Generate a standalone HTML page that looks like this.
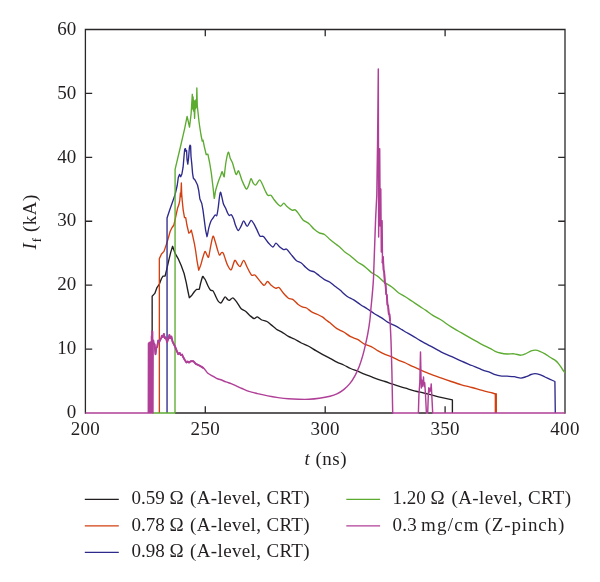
<!DOCTYPE html>
<html><head><meta charset="utf-8"><title>chart</title>
<style>
html,body{margin:0;padding:0;background:#fff;}
body{width:600px;height:582px;overflow:hidden;}
svg{display:block;will-change:transform;}
text{font-family:"Liberation Serif",serif;font-size:19px;fill:#231f20;}
</style></head><body>
<svg width="600" height="582" viewBox="0 0 600 582">
<rect width="600" height="582" fill="#fff"/>
<g fill="none" stroke="#2b2728" stroke-width="1.3">
<path d="M85.4,413.65 V29.5 H565.0 V413.65 M175,413.0 H393.2 M418.4,413.0 H426.4 M427.7,413.0 H432.7"/>
<path d="M205.30,413.0 v-6.8 M205.30,29.5 v6.8 M325.20,413.0 v-6.8 M325.20,29.5 v6.8 M445.10,413.0 v-6.8 M445.10,29.5 v6.8 M85.4,349.08 h6.8 M565.0,349.08 h-6.8 M85.4,285.17 h6.8 M565.0,285.17 h-6.8 M85.4,221.25 h6.8 M565.0,221.25 h-6.8 M85.4,157.33 h6.8 M565.0,157.33 h-6.8 M85.4,93.42 h6.8 M565.0,93.42 h-6.8"/>
</g>
<g fill="none" stroke-width="1.35" stroke-linejoin="round" stroke-linecap="butt">
<path d="M152.15,413 L152.15,296.2 L154.8,293.4 L156.8,287.9 L159.4,284.1 L161.5,278.5 L163,276.1 L165.1,276 L166.6,269.9 L168.7,260.6 L170.7,252.4 L172.6,246.3 L173.8,249.8 L175.4,253.9 L178,258.3 L181.1,265.3 L184.1,273.5 L186.2,282.3 L187.8,290.5 L189.3,297.7 L191.9,295.2 L194.5,291.5 L196.5,289.4 L199.1,289.4 C199.68,288.54 200.09,285.13 200.6,283.3 C201.11,281.47 202.19,277.21 202.7,276.5 C203.21,275.79 203.83,277.83 204.2,278.3 C204.57,278.77 204.78,278.74 205.3,279.8 C205.82,280.86 207.18,284.34 207.9,285.8 C208.62,287.26 209.68,289.38 210.4,290.1 C211.12,290.82 212.26,290.05 213,290.9 C213.74,291.75 214.86,294.64 215.6,296.1 C216.34,297.56 217.46,300.22 218.2,301.2 C218.94,302.18 220.15,303.11 220.8,303 C221.45,302.89 222.19,301.26 222.8,300.4 C223.41,299.54 224.42,297.03 225.1,296.9 C225.78,296.77 227.00,299.00 227.6,299.5 C228.19,300.00 228.56,300.64 229.3,300.4 C230.04,300.16 231.94,297.80 232.8,297.8 C233.66,297.80 234.68,299.55 235.4,300.4 C236.12,301.25 237.08,302.61 237.9,303.8 C238.72,304.99 240.12,307.75 241.2,308.8 C242.28,309.85 244.28,310.25 245.5,311.2 C246.72,312.15 248.58,314.45 249.8,315.5 C251.02,316.55 253.04,318.40 254.1,318.6 C255.16,318.80 256.21,316.70 257.3,316.9 C258.39,317.10 260.44,319.35 261.8,320 C263.16,320.65 265.57,320.81 266.9,321.5 C268.23,322.19 269.85,323.81 271.2,324.9 C272.55,325.99 274.94,328.22 276.4,329.2 C277.86,330.18 279.80,330.78 281.5,331.8 C283.20,332.82 286.57,335.38 288.4,336.4 C290.23,337.42 292.57,338.06 294.4,339 C296.23,339.94 299.35,342.01 301.3,343 C303.25,343.99 306.13,344.91 308.2,346 C310.27,347.09 313.83,349.48 315.9,350.7 C317.97,351.92 320.80,353.52 322.8,354.6 C324.80,355.68 328.00,357.24 330,358.3 C332.00,359.36 334.96,361.15 336.9,362.1 C338.84,363.05 341.76,364.09 343.7,365 C345.64,365.91 348.65,367.62 350.6,368.5 C352.56,369.38 355.55,370.41 357.5,371.2 C359.45,371.99 362.46,373.32 364.4,374.1 C366.34,374.88 369.26,375.96 371.2,376.7 C373.14,377.44 376.15,378.62 378.1,379.3 C380.06,379.98 383.05,380.85 385,381.5 C386.95,382.15 389.96,383.23 391.9,383.9 C393.84,384.57 396.76,385.59 398.7,386.2 C400.64,386.81 403.65,387.61 405.6,388.2 C407.56,388.79 410.42,389.83 412.5,390.4 C414.58,390.97 417.74,391.59 420.3,392.2 C422.86,392.81 427.68,393.98 430.6,394.7 C433.52,395.42 437.81,396.56 440.9,397.3 L452.4,399.9 L452.4,413" stroke="#231f20"/>
<path d="M159.35,413 L159.35,258.6 L161.5,254 L164,251.4 L166.3,244.6 L167.8,239.9 L170.2,231.2 L172.1,227.5 L173.9,225 L175.8,216.4 L177.7,207.7 L178.9,204.6 L179.8,200.3 L180.4,192.9 L180.8,196.6 L181.35,183 L181.7,194.1 L182.2,200.3 L183.2,210.2 L184.5,217.6 L185.7,217.6 L186.9,225 L188.8,233.1 L190,232.5 L191.3,230.2 L192.5,234.9 L194.4,243.6 L195.6,250.5 L197,260.6 L198.7,270.2 L200.6,265.5 C201.17,263.77 202.18,259.77 202.7,258 C203.22,256.23 203.93,253.91 204.3,253 C204.67,252.09 204.86,251.19 205.3,251.6 C205.74,252.01 206.92,255.16 207.4,255.9 C207.88,256.64 208.22,258.26 208.7,256.8 C209.18,255.34 210.19,248.52 210.8,245.6 C211.41,242.68 212.39,236.81 213,236.2 C213.61,235.59 214.49,239.49 215.1,241.3 C215.71,243.11 216.69,247.06 217.3,249 C217.91,250.94 218.79,254.50 219.4,255 C220.01,255.50 221.05,252.74 221.6,252.5 C222.15,252.26 222.76,252.34 223.3,253.3 C223.84,254.26 224.79,257.60 225.4,259.3 C226.01,261.00 226.92,263.86 227.6,265.3 C228.28,266.75 229.62,268.98 230.2,269.5 C230.78,270.02 231.05,270.29 231.7,269 C232.35,267.71 233.95,261.07 234.8,260.4 C235.65,259.73 236.92,263.45 237.7,264.3 C238.48,265.15 239.45,266.95 240.3,266.4 C241.15,265.85 242.72,260.27 243.7,260.4 C244.68,260.53 246.09,265.23 247.2,267.3 C248.30,269.37 250.41,273.91 251.5,275 C252.59,276.09 253.81,274.28 254.9,275 C255.99,275.72 257.91,278.64 259.2,280.1 C260.49,281.56 262.82,285.10 264,285.3 C265.18,285.50 266.48,281.50 267.5,281.5 C268.52,281.50 270.07,284.35 271.2,285.3 C272.33,286.25 274.39,287.89 275.5,288.2 C276.61,288.51 277.89,286.82 279,287.5 C280.11,288.18 281.97,291.48 283.3,293 C284.63,294.52 287.07,297.29 288.4,298.2 C289.73,299.11 291.35,298.55 292.7,299.4 C294.05,300.25 296.55,303.15 297.9,304.2 C299.25,305.25 300.98,306.26 302.2,306.8 C303.42,307.34 305.17,307.28 306.5,308 C307.83,308.72 310.03,310.98 311.6,311.9 C313.17,312.82 316.01,313.76 317.6,314.5 C319.19,315.24 321.58,316.32 322.8,317.1 C324.02,317.88 325.18,319.19 326.2,320 C327.22,320.81 328.48,321.58 330,322.8 C331.52,324.02 334.96,327.30 336.9,328.6 C338.84,329.90 341.76,330.85 343.7,332 C345.64,333.15 348.65,335.65 350.6,336.7 C352.56,337.75 355.55,338.35 357.5,339.4 C359.45,340.45 362.46,343.08 364.4,344.1 C366.34,345.12 369.26,345.64 371.2,346.6 C373.14,347.56 376.15,349.79 378.1,350.9 C380.06,352.00 383.05,353.55 385,354.4 C386.95,355.25 389.96,356.05 391.9,356.9 C393.84,357.75 396.76,359.54 398.7,360.4 C400.64,361.26 403.65,362.15 405.6,363 C407.56,363.85 410.42,365.44 412.5,366.4 C414.58,367.36 417.74,368.71 420.3,369.8 C422.86,370.89 427.68,372.95 430.6,374.1 C433.52,375.25 437.98,376.85 440.9,377.9 C443.82,378.95 448.28,380.52 451.2,381.5 C454.12,382.48 458.57,383.95 461.5,384.8 C464.43,385.65 468.97,386.71 471.9,387.5 C474.83,388.29 479.28,389.62 482.2,390.4 C485.12,391.18 490.60,392.50 492.5,393 C494.40,393.50 495.16,393.77 495.6,393.9 L495.9,413" stroke="#d23f10"/>
<path d="M495.8,393.3 V413" stroke="#d23f10" stroke-width="2.3"/>
<path d="M167.05,413 L167.05,218 L169.6,210.2 L172.7,201.5 L175.2,194.1 L177.2,185.5 L178.3,177.5 L179.5,174.4 L180.7,176.7 L181.9,174 L183.1,167.2 L183.9,157.8 L184.7,149.1 L185.5,148.7 L186,151.4 L186.6,150.6 L187,159.3 L187.8,164.1 L188.6,157.8 L189.4,147.5 L190,145.1 L190.6,145.9 L191,156.2 L191.8,164.1 L192.6,173.6 L193.4,178.3 L195.2,180.3 L197.5,185 L198.7,190.4 L199.9,199 L201.8,203.5 L203,210.2 L204.3,220.1 L205.6,230.1 L207,236.7 C207.44,236.46 208.16,230.55 208.7,228.4 C209.24,226.25 210.19,222.96 210.8,221.5 C211.41,220.04 212.39,219.02 213,218.1 C213.61,217.18 214.56,215.37 215.1,215 C215.64,214.63 216.36,216.52 216.8,215.5 C217.24,214.48 217.83,210.35 218.2,207.8 C218.57,205.25 219.09,199.70 219.4,197.5 C219.71,195.30 220.09,192.54 220.4,192.3 C220.71,192.06 221.19,194.21 221.6,195.8 C222.01,197.39 222.76,201.80 223.3,203.5 C223.84,205.20 224.79,206.45 225.4,207.8 C226.01,209.15 227.05,211.91 227.6,213 C228.15,214.09 228.76,215.26 229.3,215.5 C229.84,215.74 230.79,214.20 231.4,214.7 C232.01,215.20 233.03,217.54 233.6,219 C234.17,220.46 234.75,223.37 235.4,225 C236.05,226.63 237.38,230.37 238.2,230.5 C239.02,230.63 240.42,227.27 241.2,225.9 C241.98,224.53 242.85,220.73 243.7,220.8 C244.55,220.87 246.17,226.46 247.2,226.4 C248.23,226.34 250.02,220.71 251,220.4 C251.98,220.09 253.18,222.68 254.1,224.2 C255.02,225.72 256.65,229.40 257.5,231.1 C258.35,232.80 259.25,235.42 260.1,236.2 C260.95,236.98 262.28,235.61 263.5,236.6 C264.72,237.59 267.35,241.73 268.7,243.2 C270.05,244.67 271.97,247.00 273,247 C274.03,247.00 275.04,243.19 276,243.2 C276.96,243.21 278.72,246.19 279.8,247.1 C280.88,248.01 282.62,249.30 283.6,249.6 C284.58,249.90 285.65,248.52 286.7,249.2 C287.75,249.88 289.65,252.81 291,254.4 C292.35,255.99 294.74,259.18 296.2,260.4 C297.66,261.62 299.97,262.02 301.3,263 C302.63,263.98 304.38,266.21 305.6,267.3 C306.82,268.39 308.68,270.05 309.9,270.7 C311.12,271.35 312.87,271.18 314.2,271.9 C315.53,272.62 317.84,274.71 319.3,275.8 C320.76,276.89 322.98,278.69 324.5,279.6 C326.02,280.51 328.51,281.25 330,282.2 C331.49,283.15 333.58,285.18 335,286.3 C336.42,287.42 338.31,288.70 340,290.1 C341.69,291.50 344.96,294.81 346.9,296.2 C348.84,297.59 351.76,298.70 353.7,299.9 C355.64,301.10 358.65,303.41 360.6,304.7 C362.56,305.99 365.55,307.73 367.5,309 C369.45,310.27 372.46,312.48 374.4,313.7 C376.34,314.92 379.26,316.37 381.2,317.6 C383.14,318.83 386.15,321.25 388.1,322.4 C390.06,323.55 393.05,324.67 395,325.7 C396.95,326.73 400.40,328.81 401.9,329.7 C403.40,330.59 404.10,331.14 405.6,332 C407.10,332.86 410.42,334.58 412.5,335.8 C414.58,337.02 417.74,339.14 420.3,340.6 C422.86,342.06 427.68,344.51 430.6,346.1 C433.52,347.69 437.98,350.34 440.9,351.8 C443.82,353.26 448.28,355.07 451.2,356.4 C454.12,357.73 458.57,359.91 461.5,361.2 C464.43,362.49 468.97,364.28 471.9,365.5 C474.83,366.72 479.64,368.82 482.2,369.8 C484.76,370.78 488.16,371.72 490,372.4 C491.84,373.08 493.74,374.12 495.2,374.6 C496.66,375.08 498.60,375.57 500.3,375.8 C502.00,376.03 505.25,376.07 507.2,376.2 C509.15,376.33 512.16,376.43 514.1,376.7 C516.04,376.97 519.20,378.10 520.9,378.1 C522.60,378.10 524.64,377.21 526.1,376.7 C527.56,376.19 529.94,374.94 531.2,374.5 C532.46,374.06 533.78,373.59 535,373.6 C536.22,373.61 538.38,374.12 539.8,374.6 C541.22,375.08 543.54,376.33 545,377 C546.46,377.67 548.70,378.66 550.1,379.3 C551.50,379.94 554.22,381.19 554.9,381.5 L555.3,413" stroke="#2e2a8c"/>
<path d="M152.6,413 L175,413 L175.1,169.3 L180.4,147 L184.7,128.3 L187.1,116.4 L188.4,122 L189.5,127.1 L191.1,114 L192.3,94.3 L192.7,109 L193.1,97 L193.5,111 L193.9,100.5 L194.6,118.4 L195.2,101 L195.7,108.5 L196.1,99.5 L196.5,107 L196.85,88 L197.3,106 L197.8,110.5 L199,121.5 L199.6,126 L201,135 L202.2,141 L203,140.1 L204.4,147 L206.2,154.7 L207.9,154.2 L209.6,162.5 L211.3,172.8 L213,187.2 L214.2,198.4 C214.57,198.88 215.03,192.92 215.6,190.6 C216.17,188.28 217.46,184.18 218.2,182 C218.94,179.82 220.25,176.66 220.8,175.2 C221.35,173.74 221.69,171.56 222.1,171.7 C222.51,171.84 223.47,175.56 223.7,176.2 L224.2,176.9 C224.44,174.86 225.32,166.00 225.9,162.5 C226.48,159.00 227.69,152.81 228.3,152.2 C228.91,151.59 229.59,156.64 230.2,158.2 C230.81,159.76 231.78,160.90 232.6,163.2 C233.42,165.50 235.15,173.31 236,174.4 C236.85,175.49 237.75,170.05 238.6,170.9 C239.45,171.75 240.91,177.84 242,180.4 C243.09,182.96 245.32,188.39 246.3,189 C247.28,189.61 248.23,186.16 248.9,184.7 C249.57,183.24 250.39,178.94 251,178.7 C251.61,178.46 252.52,182.11 253.2,183 C253.88,183.89 254.89,185.44 255.8,185 C256.71,184.56 258.64,179.94 259.6,179.9 C260.56,179.86 261.81,183.17 262.6,184.7 C263.39,186.23 264.46,189.20 265.2,190.7 C265.94,192.20 266.99,194.65 267.8,195.3 C268.61,195.95 270.05,194.73 270.9,195.3 C271.75,195.87 272.89,198.12 273.8,199.3 C274.71,200.48 276.32,202.62 277.3,203.6 C278.28,204.58 279.78,206.27 280.7,206.2 C281.62,206.13 282.95,203.10 283.8,203.1 C284.65,203.10 285.55,205.21 286.7,206.2 C287.85,207.19 290.68,209.58 291.9,210.1 C293.12,210.62 294.34,209.36 295.3,209.9 C296.26,210.44 297.61,212.48 298.7,213.9 C299.79,215.32 301.54,218.51 303,219.9 C304.46,221.29 307.41,222.37 309,223.7 C310.59,225.03 312.74,228.01 314.2,229.3 C315.66,230.59 317.84,232.06 319.3,232.8 C320.76,233.54 322.98,233.55 324.5,234.5 C326.02,235.45 328.51,238.22 330,239.5 C331.49,240.78 333.58,242.41 335,243.5 C336.42,244.59 338.56,245.95 340,247.2 C341.44,248.45 343.74,251.08 345.2,252.3 C346.66,253.52 348.60,254.45 350.3,255.8 C352.00,257.15 355.25,260.34 357.2,261.8 C359.15,263.26 362.16,264.64 364.1,266.1 C366.04,267.56 368.96,270.64 370.9,272.1 C372.84,273.56 375.85,274.94 377.8,276.4 C379.75,277.86 382.76,280.94 384.7,282.4 C386.64,283.86 389.56,285.24 391.5,286.7 C393.44,288.16 396.44,291.28 398.4,292.7 C400.35,294.12 403.35,295.48 405.3,296.7 C407.25,297.92 410.26,300.00 412.2,301.3 C414.14,302.60 417.06,304.61 419,305.9 C420.94,307.19 423.94,309.05 425.9,310.4 C427.85,311.75 430.80,314.14 432.8,315.4 C434.80,316.66 437.39,317.67 440,319.3 C442.61,320.93 448.15,324.97 451.2,326.9 C454.25,328.83 458.57,331.20 461.5,332.9 C464.43,334.60 468.97,337.24 471.9,338.9 C474.83,340.56 479.64,343.25 482.2,344.6 C484.76,345.95 488.16,347.45 490,348.4 C491.84,349.35 493.74,350.65 495.2,351.3 C496.66,351.95 498.60,352.62 500.3,353 C502.00,353.38 505.25,353.89 507.2,354 C509.15,354.11 512.16,353.63 514.1,353.8 C516.04,353.97 519.20,355.24 520.9,355.2 C522.60,355.16 524.64,354.11 526.1,353.5 C527.56,352.89 529.87,351.37 531.2,350.9 C532.53,350.43 534.28,350.14 535.5,350.2 C536.72,350.26 538.45,350.79 539.8,351.3 C541.15,351.81 543.54,352.95 545,353.8 C546.46,354.65 548.64,356.37 550.1,357.3 C551.56,358.24 554.08,359.48 555.3,360.4 C556.52,361.32 557.72,362.58 558.7,363.8 C559.68,365.02 561.31,367.71 562.2,369 C563.09,370.29 564.60,372.35 565,372.9" stroke="#5cab31"/>
<path d="M85.4,413 L148.3,413 L148.45,343.5 L148.75,413 L149.05,342.5 L149.35,413 L149.65,343.5 L149.95,413 L150.25,342 L150.55,413 L150.85,343 L151.15,413 L151.45,336 L151.75,413 L152.05,331 L152.35,413 L152.65,331.5 L152.95,413 L153.2,340 L153.7,343.5 L154.6,344.3 L155.2,351 L155.5,354.2 L156.3,347.8 L157.2,346.9 L158.2,340.5 L159.3,341.8 L160.6,339.2 L161.3,337.8 L161.9,335.7 L162.8,337 L163.9,334 L164.4,336.8 L164.9,338.3 L165.6,337.4 L166.2,338.8 L167.1,342.2 L167.8,340 L168.4,338.8 L169.4,334.9 L170.2,338.3 L170.8,337 L171.4,336.6 L172.6,341.8 L173.9,344.3 L175.2,346.9 L176.9,351.2 L178.2,354.2 L179.7,352.9 L180.8,355.1 L182.1,354.6 L183,356.8 L184.7,359.8 L186.4,362.4 L187.7,361.5 L189,362.6 L190.7,361.2 C191.31,361.00 192.58,360.83 193.3,361.2 C194.02,361.57 194.95,363.19 195.8,363.8 C196.65,364.41 198.20,364.89 199.3,365.5 C200.41,366.11 202.38,367.00 203.6,368.1 C204.82,369.21 206.68,372.21 207.9,373.3 C209.12,374.39 210.98,375.08 212.2,375.8 C213.42,376.52 215.28,377.83 216.5,378.4 C217.72,378.97 219.47,379.30 220.8,379.8 C222.13,380.30 224.44,381.36 225.9,381.9 C227.36,382.44 229.78,383.10 231.1,383.6 C232.42,384.10 233.66,384.71 235.2,385.4 C236.74,386.09 240.06,387.65 242,388.5 C243.94,389.35 246.70,390.68 248.9,391.4 C251.10,392.12 254.82,392.96 257.5,393.6 C260.18,394.24 264.88,395.33 267.8,395.9 C270.72,396.47 275.18,397.19 278.1,397.6 C281.02,398.01 285.48,398.56 288.4,398.8 C291.32,399.04 295.78,399.23 298.7,399.3 C301.62,399.37 306.08,399.44 309,399.3 C311.92,399.16 316.32,398.73 319.3,398.3 C322.28,397.88 327.51,396.92 330,396.3 C332.49,395.68 334.96,394.85 336.9,393.9 C338.84,392.95 341.87,391.06 343.7,389.6 C345.53,388.14 348.21,385.56 349.8,383.6 C351.39,381.65 353.57,378.24 354.9,375.8 C356.23,373.36 358.11,369.19 359.2,366.4 C360.29,363.61 361.75,359.02 362.6,356.1 C363.45,353.18 364.46,348.97 365.2,345.8 C365.94,342.63 367.13,337.36 367.8,333.7 C368.47,330.04 369.46,323.50 369.9,320 C370.34,316.50 370.39,314.94 370.9,309 C371.41,303.06 372.83,290.84 373.5,278.1 L375.6,219.1 L376.8,195 L377.6,140 L378.3,69 L378.65,237 L379.7,148.7 L380.2,226 L380.8,189 L381.3,252 L382.1,220.8 L382.5,263 L383,257 L383.6,270 L384.2,272 L384.9,283 L385.5,284 L386.2,294 L386.8,295 L387.5,305 L388.1,305.5 L388.8,314 L389.4,314 L390.1,321 L391,340.6 L391.9,371.5 L392.7,413 L418.4,413 L418.9,395.2 L419.8,382.6 L420.5,351.9 L421,376.4 L421.4,388 L421.8,380 L422.2,386.5 L422.7,381.4 L423.1,384.5 L423.5,377 L423.9,385 L424.2,386.4 L424.7,382.6 L425.4,392.7 L426.4,413 L427.7,413 L428.3,395.2 L428.8,387.7 L429.2,392 L429.6,391.4 L430.3,388.3 L430.7,391 L431.2,383.9 L431.8,395.2 L432.7,413 L565,413" stroke="#b03f98" stroke-width="1.45"/>
<path d="M153.2,340 L153.7,343.5 L154.6,344.3 L155.2,351 L155.5,354.2 L156.3,347.8 L157.2,346.9 L158.2,340.5 L159.3,341.8 L160.6,339.2 L161.3,337.8 L161.9,335.7 L162.8,337 L163.9,334 L164.4,336.8 L164.9,338.3 L165.6,337.4 L166.2,338.8 L167.1,342.2 L167.8,340 L168.4,338.8 L169.4,334.9 L170.2,338.3 L170.8,337 L171.4,336.6 L172.6,341.8 L173.9,344.3 L175.2,346.9 L176.9,351.2 L178.2,354.2 L179.7,352.9 L180.8,355.1 L182.1,354.6 L183,356.8 L184.7,359.8 L186.4,362.4 L187.7,361.5 L189,362.6 L190.7,361.2 L193.3,361.2 L195.8,363.8 L199.3,365.5 L203.6,368.1" stroke="#b03f98" stroke-width="1.9"/>
<path d="M382.5,263 L383,257 L383.6,270 L384.2,272 L384.9,283 L385.5,284 L386.2,294 L386.8,295 L387.5,305 L388.1,305.5 L388.8,314 L389.4,314 L390.1,321" stroke="#b03f98" stroke-width="1.9"/>
</g>
<g>
<text x="76.3" y="418.2" text-anchor="end">0</text>
<text x="76.3" y="354.3" text-anchor="end">10</text>
<text x="76.3" y="290.4" text-anchor="end">20</text>
<text x="76.3" y="226.4" text-anchor="end">30</text>
<text x="76.3" y="162.5" text-anchor="end">40</text>
<text x="76.3" y="98.6" text-anchor="end">50</text>
<text x="76.3" y="34.7" text-anchor="end">60</text>
<text x="85.4" y="434.9" text-anchor="middle" letter-spacing="0.3">200</text>
<text x="205.3" y="434.9" text-anchor="middle" letter-spacing="0.3">250</text>
<text x="325.2" y="434.9" text-anchor="middle" letter-spacing="0.3">300</text>
<text x="445.1" y="434.9" text-anchor="middle" letter-spacing="0.3">350</text>
<text x="565.0" y="434.9" text-anchor="middle" letter-spacing="0.3">400</text>

<text x="304.6" y="465.2" font-style="italic">t</text><text x="315.5" y="465.2" letter-spacing="0.5">(ns)</text>
<text transform="translate(36.2,249.4) rotate(-90)" font-size="19.5px"><tspan font-style="italic">I</tspan><tspan font-size="12.5px" dy="4.5" dx="0.8">f</tspan><tspan dy="-4.5" dx="1.0" letter-spacing="0.45"> (kA)</tspan></text>
<path d="M84.8,499.3 H118.8" stroke="#231f20" stroke-width="1.3" fill="none"/>
<text x="131.6" y="504.3" letter-spacing="0">0.59 Ω</text>
<text x="190.1" y="504.3" letter-spacing="0.35">(A-level, CRT)</text>
<path d="M84.8,525.8 H118.8" stroke="#d23f10" stroke-width="1.3" fill="none"/>
<text x="131.6" y="530.8" letter-spacing="0">0.78 Ω</text>
<text x="190.1" y="530.8" letter-spacing="0.35">(A-level, CRT)</text>
<path d="M84.8,552.3 H118.8" stroke="#2e2a8c" stroke-width="1.3" fill="none"/>
<text x="131.6" y="557.3" letter-spacing="0">0.98 Ω</text>
<text x="190.1" y="557.3" letter-spacing="0.35">(A-level, CRT)</text>
<path d="M346.3,499.3 H380.1" stroke="#5cab31" stroke-width="1.3" fill="none"/>
<text x="392.4" y="504.3" letter-spacing="0">1.20 Ω</text>
<text x="451.6" y="504.3" letter-spacing="0.35">(A-level, CRT)</text>
<path d="M346.3,525.8 H380.1" stroke="#b03f98" stroke-width="1.3" fill="none"/>
<text x="392.6" y="530.8" letter-spacing="0.2">0.3</text>
<text x="421.0" y="530.8" letter-spacing="1.2">mg/cm</text>
<text x="484.7" y="530.8" letter-spacing="0.85">(Z-pinch)</text>

</g>
</svg>
</body></html>
